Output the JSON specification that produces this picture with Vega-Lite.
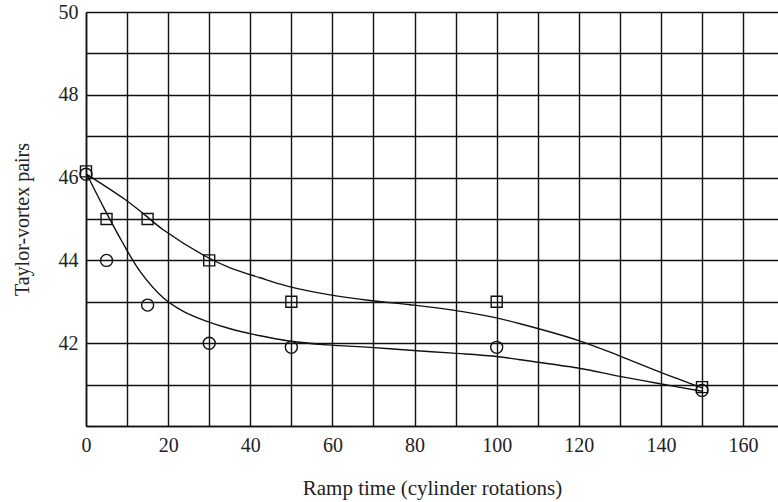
{
  "$schema": "https://vega.github.io/schema/vega-lite/v6.json",
  "width": 692,
  "height": 414,
  "autosize": {"type": "none"},
  "padding": {"left": 86, "top": 12, "right": 0, "bottom": 76},
  "background": "white",
  "config": {
    "view": {"stroke": null},
    "font": "Liberation Serif",
    "axis": {
      "labelColor": "#222",
      "titleColor": "#222",
      "titleFontWeight": "normal",
      "gridColor": "#111",
      "gridOpacity": 1,
      "gridWidth": 1.4,
      "domainColor": "#111",
      "domainWidth": 1.6,
      "ticks": false
    }
  },
  "datasets": {
    "points": [
      {"ramp": 0, "pairs": 46.15, "series": "A"},
      {"ramp": 5, "pairs": 45.0, "series": "A"},
      {"ramp": 15, "pairs": 45.0, "series": "A"},
      {"ramp": 30, "pairs": 44.0, "series": "A"},
      {"ramp": 50, "pairs": 43.0, "series": "A"},
      {"ramp": 100, "pairs": 43.0, "series": "A"},
      {"ramp": 150, "pairs": 40.94, "series": "A"},
      {"ramp": 0, "pairs": 46.08, "series": "B"},
      {"ramp": 5, "pairs": 44.0, "series": "B"},
      {"ramp": 15, "pairs": 42.92, "series": "B"},
      {"ramp": 30, "pairs": 42.0, "series": "B"},
      {"ramp": 50, "pairs": 41.9, "series": "B"},
      {"ramp": 100, "pairs": 41.9, "series": "B"},
      {"ramp": 150, "pairs": 40.86, "series": "B"}
    ],
    "curves": [
      {"ramp": 0.2, "pairs": 46.08, "series": "A"},
      {"ramp": 9.1, "pairs": 45.5, "series": "A"},
      {"ramp": 13.95, "pairs": 45.13, "series": "A"},
      {"ramp": 18.8, "pairs": 44.74, "series": "A"},
      {"ramp": 29.1, "pairs": 44.1, "series": "A"},
      {"ramp": 35.1, "pairs": 43.82, "series": "A"},
      {"ramp": 42.4, "pairs": 43.58, "series": "A"},
      {"ramp": 49, "pairs": 43.38, "series": "A"},
      {"ramp": 58.7, "pairs": 43.18, "series": "A"},
      {"ramp": 69.2, "pairs": 43.03, "series": "A"},
      {"ramp": 78.9, "pairs": 42.93, "series": "A"},
      {"ramp": 89.4, "pairs": 42.8, "series": "A"},
      {"ramp": 99.1, "pairs": 42.63, "series": "A"},
      {"ramp": 105.7, "pairs": 42.47, "series": "A"},
      {"ramp": 119.8, "pairs": 42.07, "series": "A"},
      {"ramp": 130, "pairs": 41.69, "series": "A"},
      {"ramp": 139.8, "pairs": 41.3, "series": "A"},
      {"ramp": 150, "pairs": 40.92, "series": "A"},
      {"ramp": 0.2, "pairs": 46.08, "series": "B"},
      {"ramp": 4.6, "pairs": 45.22, "series": "B"},
      {"ramp": 8.8, "pairs": 44.45, "series": "B"},
      {"ramp": 13.2, "pairs": 43.73, "series": "B"},
      {"ramp": 18.8, "pairs": 43.1, "series": "B"},
      {"ramp": 23.7, "pairs": 42.77, "series": "B"},
      {"ramp": 29.1, "pairs": 42.54, "series": "B"},
      {"ramp": 35.1, "pairs": 42.35, "series": "B"},
      {"ramp": 42.4, "pairs": 42.18, "series": "B"},
      {"ramp": 49, "pairs": 42.06, "series": "B"},
      {"ramp": 58.7, "pairs": 41.96, "series": "B"},
      {"ramp": 69.2, "pairs": 41.9, "series": "B"},
      {"ramp": 78.9, "pairs": 41.83, "series": "B"},
      {"ramp": 89.4, "pairs": 41.76, "series": "B"},
      {"ramp": 99.1, "pairs": 41.69, "series": "B"},
      {"ramp": 105.7, "pairs": 41.6, "series": "B"},
      {"ramp": 119.8, "pairs": 41.4, "series": "B"},
      {"ramp": 130, "pairs": 41.2, "series": "B"},
      {"ramp": 139.8, "pairs": 41.02, "series": "B"},
      {"ramp": 150, "pairs": 40.84, "series": "B"}
    ]
  },
  "encoding": {
    "x": {
      "field": "ramp",
      "type": "quantitative",
      "scale": {"domain": [0, 168.5], "nice": false, "zero": false},
      "axis": {
        "title": "Ramp time (cylinder rotations)",
        "values": [0, 10, 20, 30, 40, 50, 60, 70, 80, 90, 100, 110, 120, 130, 140, 150, 160],
        "labelExpr": "datum.value % 20 == 0 ? datum.label : ''",
        "labelFont": "Liberation Serif",
        "titleFont": "Liberation Serif",
        "labelFontSize": 20,
        "titleFontSize": 21,
        "labelPadding": 9,
        "titlePadding": 22,
        "labelFlush": false
      }
    },
    "y": {
      "field": "pairs",
      "type": "quantitative",
      "scale": {"domain": [40, 50], "nice": false, "zero": false},
      "axis": {
        "title": "Taylor-vortex pairs",
        "values": [40, 41, 42, 43, 44, 45, 46, 47, 48, 49, 50],
        "labelExpr": "datum.value % 2 == 0 && datum.value > 40 ? datum.label : ''",
        "labelFont": "Liberation Serif",
        "titleFont": "Liberation Serif",
        "labelFontSize": 20,
        "titleFontSize": 20,
        "labelPadding": 8,
        "titlePadding": 26,
        "labelFlush": false
      }
    }
  },
  "layer": [
    {
      "data": {"name": "curves"},
      "mark": {"type": "line", "interpolate": "catmull-rom", "color": "#111", "strokeWidth": 1.4},
      "encoding": {"detail": {"field": "series"}}
    },
    {
      "data": {"name": "points"},
      "mark": {"type": "point", "filled": false, "stroke": "#111", "strokeWidth": 1.4, "opacity": 1},
      "encoding": {
        "shape": {
          "field": "series",
          "type": "nominal",
          "scale": {"domain": ["A", "B"], "range": ["square", "circle"]},
          "legend": null
        },
        "size": {
          "field": "series",
          "type": "nominal",
          "scale": {"domain": ["A", "B"], "range": [121, 144]},
          "legend": null
        }
      }
    }
  ]
}
